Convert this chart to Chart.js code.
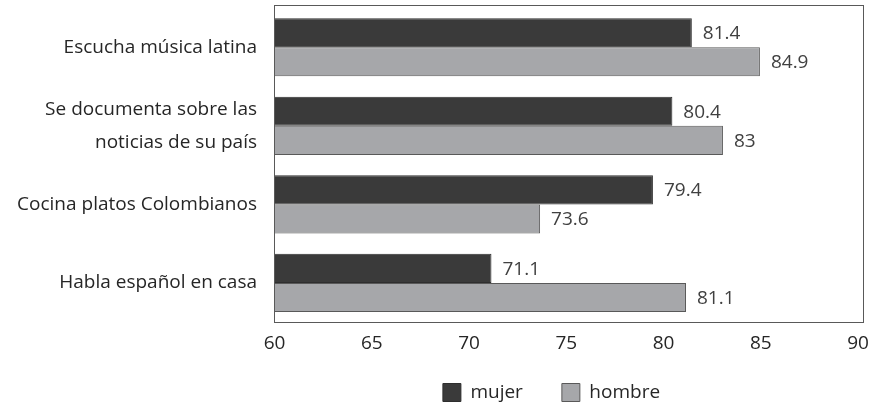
<!DOCTYPE html>
<html>
<head>
<meta charset="utf-8">
<script src="https://cdn.jsdelivr.net/npm/chart.js@4"></script>
<style>
  html, body { margin: 0; padding: 0; background: #fff; }
  #wrap { width: 869px; height: 407px; }
</style>
</head>
<body>
<div id="wrap"><canvas id="grafico"></canvas></div>
<script>
const categorias = [
  'Escucha música latina',
  ['Se documenta sobre las', 'noticias de su país'],
  'Cocina platos Colombianos',
  'Habla español en casa'
];
const mujer = [81.4, 80.4, 79.4, 71.1];
const hombre = [84.9, 83, 73.6, 81.1];
const ticksX = [60, 65, 70, 75, 80, 85, 90];

const fuente = "'Open Sans', 'Noto Sans', sans-serif";
const tam = 19;

// etiquetas de valor al final de cada barra
const etiquetas = {
  id: 'etiquetas',
  afterDatasetsDraw(chart) {
    const ctx = chart.ctx;
    ctx.save();
    ctx.font = tam + 'px ' + fuente;
    ctx.fillStyle = '#404040';
    ctx.textAlign = 'left';
    ctx.textBaseline = 'middle';
    chart.data.datasets.forEach((ds, i) => {
      chart.getDatasetMeta(i).data.forEach((bar, j) => {
        ctx.fillText(String(ds.data[j]), bar.x + 11, bar.y + 1);
      });
    });
    ctx.restore();
  }
};

// marco alrededor del área del gráfico y leyenda recolocada
const marco = {
  id: 'marco',
  afterLayout(chart) {
    const lg = chart.legend;
    const dx = 120;
    const dy = 344 - lg.top;
    lg.left += dx;
    lg.right += dx;
    lg.top += dy;
    lg.bottom += dy;
  },
  afterDraw(chart) {
    const a = chart.chartArea;
    const ctx = chart.ctx;
    ctx.save();
    ctx.strokeStyle = '#595959';
    ctx.lineWidth = 1;
    const top = Math.round(a.top) - 3;
    ctx.strokeRect(Math.round(a.left) + 0.5, top + 0.5,
      Math.round(a.right - a.left), Math.round(a.bottom) - top);
    ctx.restore();
  }
};

new Chart(document.getElementById('grafico'), {
  type: 'bar',
  data: {
    labels: categorias,
    datasets: [
      {
        label: 'mujer',
        data: mujer,
        backgroundColor: '#3a3a3a',
        borderColor: '#2e2e2e',
        borderWidth: 1,
        categoryPercentage: 0.74,
        barPercentage: 1
      },
      {
        label: 'hombre',
        data: hombre,
        backgroundColor: '#a6a7aa',
        borderColor: '#595959',
        borderWidth: 1,
        categoryPercentage: 0.74,
        barPercentage: 1
      }
    ]
  },
  options: {
    indexAxis: 'y',
    responsive: true,
    maintainAspectRatio: false,
    animation: false,
    layout: { padding: { top: 8, right: 6, left: 0, bottom: -26 } },
    scales: {
      x: {
        min: 59.92,
        max: 90.2,
        afterBuildTicks(axis) { axis.ticks = ticksX.map(v => ({ value: v })); },
        afterFit(axis) {
          axis.paddingLeft = 0;
          axis.paddingRight = 0;
        },
        grid: { display: false, drawTicks: false },
        border: { display: false },
        ticks: { color: '#262626', font: { family: fuente, size: tam }, padding: 10, labelOffset: -1 }
      },
      y: {
        afterFit(axis) {
          axis.width = 274;
          axis.paddingTop = 0;
          axis.paddingBottom = 0;
        },
        grid: { display: false, drawTicks: false },
        border: { display: false },
        ticks: { color: '#262626', font: { family: fuente, size: tam, lineHeight: 1.75 }, padding: 17 }
      }
    },
    plugins: {
      legend: {
        position: 'bottom',
        labels: {
          color: '#262626',
          font: { family: fuente, size: tam },
          boxWidth: 18,
          boxHeight: 18,
          padding: 39
        }
      },
      tooltip: { enabled: false }
    }
  },
  plugins: [etiquetas, marco]
});
</script>
</body>
</html>
